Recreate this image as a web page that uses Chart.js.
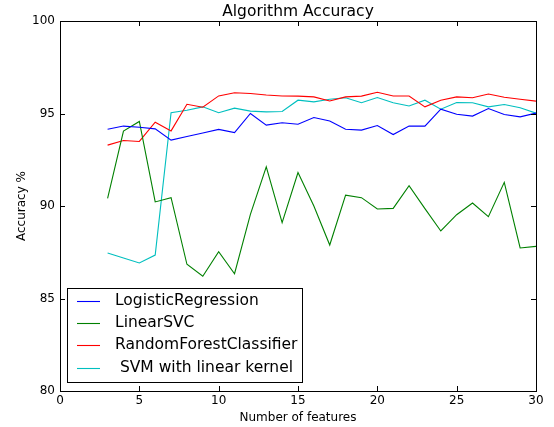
<!DOCTYPE html>
<html>
<head>
<meta charset="utf-8">
<script src="https://cdn.jsdelivr.net/npm/chart.js@4.4.0/dist/chart.umd.min.js"></script>
<style>
  body { margin: 0; background: #fff; }
  canvas { display: block; }
</style>
</head>
<body>
<canvas id="accChart" width="554" height="427"></canvas>
<script>
// number of features on the x axis
var features = [3, 4, 5, 6, 7, 8, 9, 10, 11, 12, 13, 14, 15, 16, 17, 18, 19, 20, 21, 22, 23, 24, 25, 26, 27, 28, 29, 30];

var logReg = [94.15, 94.32, 94.26, 94.17, 93.56, 93.76, 93.95, 94.14, 93.97, 95.0, 94.37, 94.5, 94.42, 94.78,
    94.59, 94.15, 94.1, 94.35, 93.86, 94.32, 94.32, 95.23, 94.96, 94.86, 95.27, 94.95, 94.82, 95.02];
var linearSVC = [90.41, 94.05, 94.57, 90.22, 90.45, 86.85, 86.2, 87.53, 86.34, 89.55, 92.12, 89.1, 91.81, 90.0,
    87.89, 90.59, 90.45, 89.84, 89.87, 91.1, 89.86, 88.65, 89.53, 90.16, 89.42, 91.28, 87.73, 87.82];
var randomForest = [93.29, 93.54, 93.49, 94.53, 94.06, 95.5, 95.34, 95.95, 96.12, 96.08, 96.0, 95.95, 95.94, 95.9,
    95.68, 95.9, 95.94, 96.15, 95.95, 95.95, 95.36, 95.72, 95.9, 95.85, 96.05, 95.88, 95.77, 95.67];
var svmLinear = [87.46, 87.19, 86.92, 87.35, 95.04, 95.18, 95.36, 95.04, 95.29, 95.13, 95.09, 95.11, 95.72, 95.63,
    95.77, 95.85, 95.58, 95.86, 95.58, 95.41, 95.72, 95.23, 95.59, 95.58, 95.36, 95.49, 95.31, 95.02];

var seriesNames = ["LogisticRegression", "LinearSVC", "RandomForestClassifier", " SVM with linear kernel"];
var seriesColors = ["#0000ff", "#008000", "#ff0000", "#00bfbf"];
var seriesValues = [logReg, linearSVC, randomForest, svmLinear];

var xTicks = [0, 5, 10, 15, 20, 25, 30];
var yTicks = [80, 85, 90, 95, 100];

var chartTitle = "Algorithm Accuracy";
var fontName = "'DejaVu Sans', sans-serif";

function toPoints(vals){
    var pts = [];
    for(var i = 0; i < features.length; i++){
        pts.push({x: features[i], y: vals[i]});
    }
    return pts;
}

var datasets = [];
for(var s = 0; s < seriesNames.length; s++){
    datasets.push({
        label: seriesNames[s],
        data: toPoints(seriesValues[s]),
        borderColor: seriesColors[s],
        backgroundColor: seriesColors[s],
        borderWidth: 1.1,
        pointRadius: 0,
        fill: false,
        tension: 0
    });
}

// frame + inward ticks like matplotlib classic, title centred over the plot
var framePlugin = {
    id: 'frame',
    afterDatasetsDraw: function(chart){
        var c = chart.ctx, a = chart.chartArea;
        var xs = chart.scales.x, ys = chart.scales.y;
        c.save();
        c.strokeStyle = '#000';
        c.lineWidth = 1;
        c.beginPath();
        xTicks.forEach(function(v){
            var px = Math.round(xs.getPixelForValue(v)) + 0.5;
            c.moveTo(px, a.bottom); c.lineTo(px, a.bottom - 5);
            c.moveTo(px, a.top); c.lineTo(px, a.top + 5);
        });
        yTicks.forEach(function(v){
            var py = Math.round(ys.getPixelForValue(v)) + 0.5;
            c.moveTo(a.left, py); c.lineTo(a.left + 5, py);
            c.moveTo(a.right, py); c.lineTo(a.right - 5, py);
        });
        c.stroke();
        c.strokeRect(Math.round(a.left) + 0.5, Math.round(a.top) + 0.5,
            Math.round(a.right - a.left), Math.round(a.bottom - a.top));

        c.fillStyle = '#000';
        c.font = '15.5px ' + fontName;
        c.textAlign = 'center';
        c.textBaseline = 'alphabetic';
        c.fillText(chartTitle, (a.left + a.right) / 2, a.top - 5);
        c.restore();
    }
};

// legend box in lower left of plot
var legendPlugin = {
    id: 'boxLegend',
    afterDraw: function(chart){
        var c = chart.ctx, a = chart.chartArea;
        var bx = Math.round(a.left) + 7, bw = 235, bh = 94;
        var by = Math.round(a.bottom) - 9 - bh;
        c.save();
        c.fillStyle = '#fff';
        c.fillRect(bx, by, bw, bh);
        c.strokeStyle = '#000';
        c.lineWidth = 1;
        c.strokeRect(bx + 0.5, by + 0.5, bw, bh);
        c.font = '15.5px ' + fontName;
        c.textBaseline = 'middle';
        c.fillStyle = '#000';
        chart.data.datasets.forEach(function(ds, i){
            var yy = by + 12.5 + i * 22.4;
            c.strokeStyle = ds.borderColor;
            c.lineWidth = 1.1;
            c.beginPath();
            c.moveTo(bx + 10, Math.round(yy) + 0.5);
            c.lineTo(bx + 33, Math.round(yy) + 0.5);
            c.stroke();
            c.fillText(ds.label, bx + 48, yy);
        });
        c.restore();
    }
};

Chart.defaults.font.family = fontName;
Chart.defaults.color = '#000';

var ctx = document.getElementById("accChart").getContext("2d");
var accChart = new Chart(ctx, {
    type: 'line',
    data: {datasets: datasets},
    options: {
        responsive: false,
        animation: false,
        devicePixelRatio: 1,
        layout: {padding: {top: 21, right: 18, bottom: 0, left: 0}},
        plugins: {
            legend: {display: false},
            tooltip: {enabled: false},
            title: {display: false}
        },
        scales: {
            x: {
                type: 'linear',
                min: 0,
                max: 30,
                afterBuildTicks: function(scale){
                    scale.ticks = xTicks.map(function(v){ return {value: v}; });
                },
                grid: {display: false, drawTicks: false},
                border: {display: false},
                ticks: {font: {size: 12}, padding: 3, maxRotation: 0},
                title: {display: true, text: 'Number of features', font: {size: 12}, padding: {top: 0, bottom: 2}},
                afterFit: function(scale){ scale.height = 36; }
            },
            y: {
                min: 80,
                max: 100,
                afterBuildTicks: function(scale){
                    scale.ticks = yTicks.map(function(v){ return {value: v}; });
                },
                grid: {display: false, drawTicks: false},
                border: {display: false},
                ticks: {font: {size: 12}, padding: 5},
                title: {display: true, text: 'Accuracy %', font: {size: 12}, padding: {top: 15, bottom: 0}},
                afterFit: function(scale){ scale.width = 60; }
            }
        }
    },
    plugins: [framePlugin, legendPlugin]
});
</script>
</body>
</html>
